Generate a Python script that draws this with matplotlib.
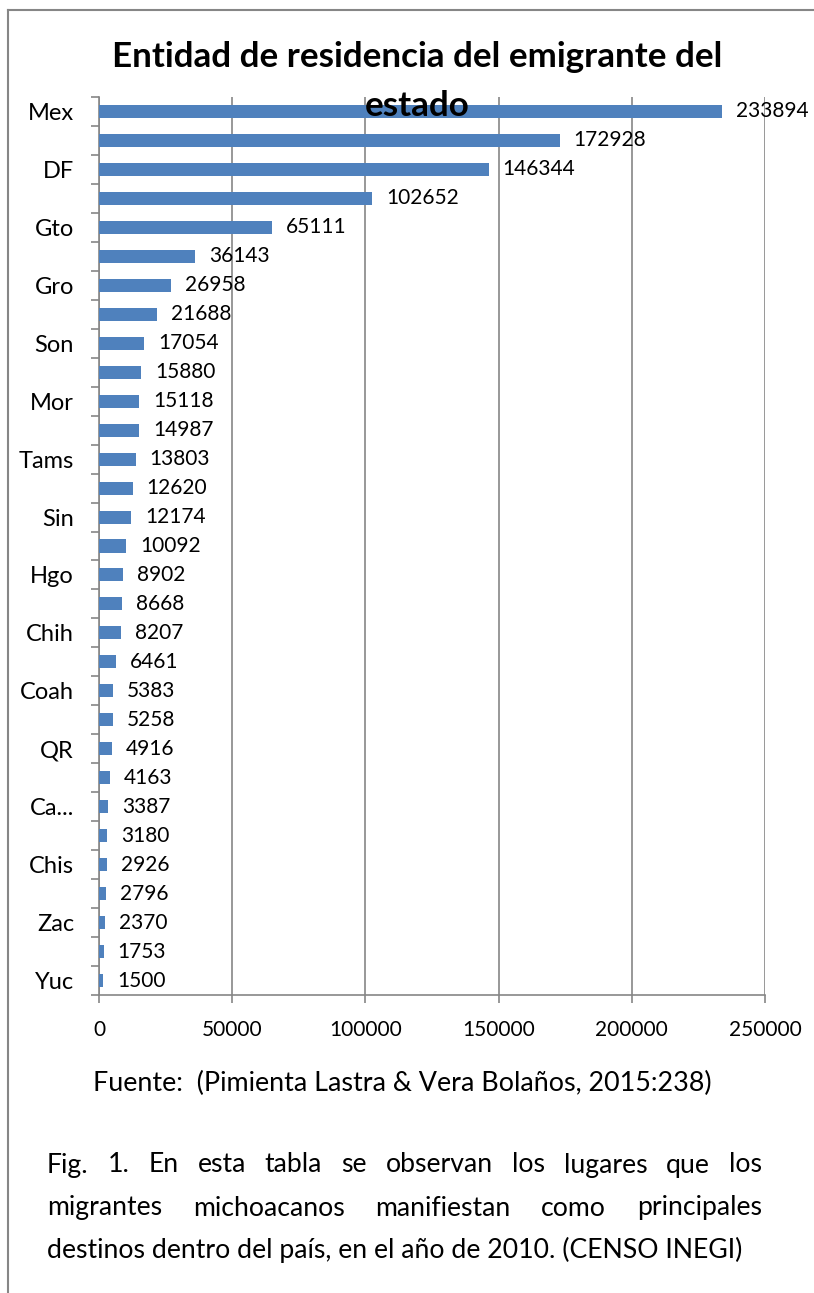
import matplotlib.pyplot as plt
from matplotlib.lines import Line2D
from matplotlib.ticker import FixedLocator, NullFormatter

plt.rcParams['font.family'] = ['Lato', 'DejaVu Sans']

# entidades (solo se ven las etiquetas pares en el original)
entidades = ['Mex', 'Jal', 'DF', 'BC', 'Gto', 'NL', 'Gro', 'Qro', 'Son', 'Ver',
             'Mor', 'Pue', 'Tams', 'BCS', 'Sin', 'Col', 'Hgo', 'Nay', 'Chih', 'SLP',
             'Coah', 'Ags', 'QR', 'Dgo', 'Ca...', 'Oax', 'Chis', 'Tab', 'Zac', 'Tlax', 'Yuc']
emigrantes = [233894, 172928, 146344, 102652, 65111, 36143, 26958, 21688, 17054, 15880,
              15118, 14987, 13803, 12620, 12174, 10092, 8902, 8668, 8207, 6461,
              5383, 5258, 4916, 4163, 3387, 3180, 2926, 2796, 2370, 1753, 1500]
xticks = [0, 50000, 100000, 150000, 200000, 250000]

W, H = 814, 1293
fig = plt.figure(figsize=(W / 100, H / 100), dpi=100)
ax = fig.add_axes([99 / W, 1 - 995 / H, (765 - 99) / W, (995 - 97) / H])

gris = '#868686'
pos = list(range(len(entidades)))
ax.barh(pos, emigrantes, height=0.45, color='#4F81BD', zorder=3)
for p, v in zip(pos, emigrantes):
    ax.annotate(str(v), (v, p), xytext=(10, 0), textcoords='offset points',
                va='center', ha='left', fontsize=15, color='black', zorder=4,
                annotation_clip=False)

ax.set_xlim(0, 250000)
ax.set_ylim(len(entidades) - 0.5, -0.5)
ax.set_xticks(xticks)
ax.set_xticklabels([str(t) for t in xticks], fontsize=15)
ax.set_yticks(pos[::2])
ax.set_yticklabels(entidades[::2], fontsize=17)
ax.yaxis.set_minor_locator(FixedLocator([p + 0.5 for p in range(-1, len(entidades))]))
ax.yaxis.set_minor_formatter(NullFormatter())
ax.tick_params(axis='y', which='major', length=0, pad=18)
ax.tick_params(axis='y', which='minor', length=6, color=gris, width=1.2)
ax.tick_params(axis='x', which='major', length=6, color=gris, width=1.2, pad=12)
ax.grid(axis='x', color=gris, linewidth=1.2, zorder=0)
for s in ['top', 'right']:
    ax.spines[s].set_visible(False)
for s in ['left', 'bottom']:
    ax.spines[s].set_color(gris)
    ax.spines[s].set_linewidth(1.2)

fig.text(417 / W, 1 - 57 / H, 'Entidad de residencia del emigrante del',
         ha='center', va='center', fontsize=25.2, fontweight='bold')
fig.text(417 / W, 1 - 106 / H, 'estado', ha='center', va='center',
         fontsize=25.2, fontweight='bold')

fig.text(93 / W, 1 - 1083 / H, 'Fuente:  (Pimienta Lastra & Vera Bolaños, 2015:238)',
         ha='left', va='center', fontsize=19.4)

# texto justificado del pie de figura
lineas = ['Fig. 1. En esta tabla se observan los lugares que los',
          'migrantes michoacanos manifiestan como principales',
          'destinos dentro del país, en el año de 2010. (CENSO INEGI)']
ys = [1165, 1208, 1250]
x0, x1 = 47, 762
fig.canvas.draw()
r = fig.canvas.get_renderer()
for i, (linea, y) in enumerate(zip(lineas, ys)):
    palabras = linea.split(' ')
    if i == len(lineas) - 1:
        fig.text(x0 / W, 1 - y / H, linea, ha='left', va='center', fontsize=19.2)
        continue
    ts = [fig.text(0, 1 - y / H, w, ha='left', va='center', fontsize=19.2) for w in palabras]
    anchos = [t.get_window_extent(r).width for t in ts]
    hueco = (x1 - x0 - sum(anchos)) / (len(palabras) - 1)
    x = x0
    for t, a in zip(ts, anchos):
        t.set_x(x / W)
        x += a + hueco

# marco gris
fig.add_artist(Line2D([8 / W, 1], [1 - 10 / H, 1 - 10 / H], color=gris, lw=1.5))
fig.add_artist(Line2D([8 / W, 8 / W], [0, 1 - 10 / H], color=gris, lw=1.5))

fig.savefig('out.png', dpi=100)
